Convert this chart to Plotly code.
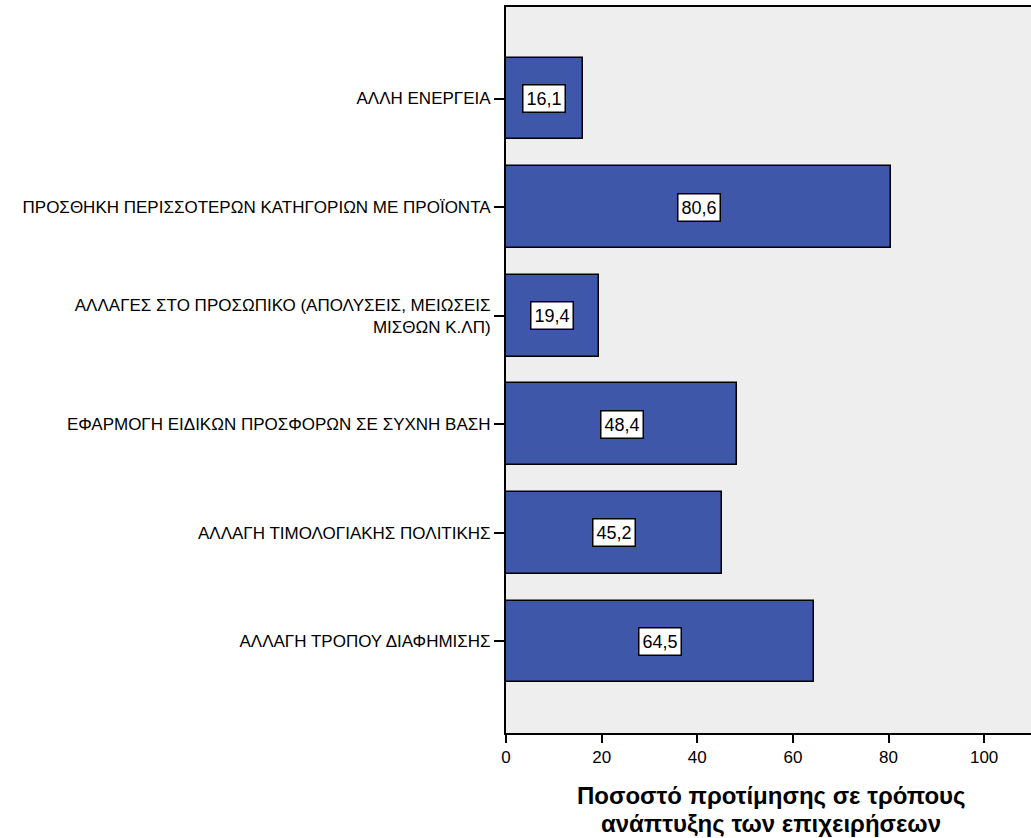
import plotly.graph_objects as go

# Categories listed bottom to top, with their preference percentages
categories = [
    "ΑΛΛΑΓΗ ΤΡΟΠΟΥ ΔΙΑΦΗΜΙΣΗΣ",
    "ΑΛΛΑΓΗ ΤΙΜΟΛΟΓΙΑΚΗΣ ΠΟΛΙΤΙΚΗΣ",
    "ΕΦΑΡΜΟΓΗ ΕΙΔΙΚΩΝ ΠΡΟΣΦΟΡΩΝ ΣΕ ΣΥΧΝΗ ΒΑΣΗ",
    "ΑΛΛΑΓΕΣ ΣΤΟ ΠΡΟΣΩΠΙΚΟ (ΑΠΟΛΥΣΕΙΣ, ΜΕΙΩΣΕΙΣ<br>ΜΙΣΘΩΝ Κ.ΛΠ)",
    "ΠΡΟΣΘΗΚΗ ΠΕΡΙΣΣΟΤΕΡΩΝ ΚΑΤΗΓΟΡΙΩΝ ΜΕ ΠΡΟΪΟΝΤΑ",
    "ΑΛΛΗ ΕΝΕΡΓΕΙΑ",
]
values = [64.5, 45.2, 48.4, 19.4, 80.6, 16.1]
x_ticks = [0, 20, 40, 60, 80, 100]
title_lines = ["Ποσοστό προτίμησης σε τρόπους", "ανάπτυξης των επιχειρήσεων"]

bar_color = "#3E57A9"
font_family = "Liberation Sans, Arial, sans-serif"

fig = go.Figure()
fig.add_trace(go.Bar(
    x=values,
    y=categories,
    orientation="h",
    width=0.752,
    marker=dict(color=bar_color, line=dict(color="#000000", width=1.5)),
    hoverinfo="x+y",
))

# Value boxes centred in each bar
for cat, v in zip(categories, values):
    fig.add_annotation(
        x=v / 2, y=cat, xref="x", yref="y",
        text=f"{v:.1f}".replace(".", ","),
        showarrow=False,
        font=dict(family=font_family, size=18, color="#000000"),
        bgcolor="#FFFFFF",
        bordercolor="#000000",
        borderwidth=1.5,
        borderpad=3,
    )

# Two-line bold axis title under the plot
for i, line in enumerate(title_lines):
    fig.add_annotation(
        x=0.505, y=0, xref="paper", yref="paper",
        text=f"<b>{line}</b>",
        showarrow=False,
        xanchor="center", yanchor="middle",
        yshift=-62 - 28 * i,
        font=dict(family=font_family, size=24, color="#000000"),
    )

fig.update_layout(
    width=1031,
    height=838,
    margin=dict(l=506, r=0, t=7, b=105),
    paper_bgcolor="#FFFFFF",
    plot_bgcolor="#EEEEEE",
    font=dict(family=font_family, color="#000000"),
    showlegend=False,
    bargap=0,
    xaxis=dict(
        range=[0, 109.8],
        tickvals=x_ticks,
        ticktext=[str(t) for t in x_ticks],
        ticks="outside",
        ticklen=8,
        tickwidth=2,
        tickcolor="#000000",
        tickfont=dict(size=17, family=font_family),
        showgrid=False,
        zeroline=False,
        showline=True,
        linecolor="#000000",
        linewidth=2,
        mirror=True,
    ),
    yaxis=dict(
        type="category",
        categoryorder="array",
        categoryarray=categories,
        range=[-0.843, 5.843],
        ticks="outside",
        ticklen=10,
        tickwidth=2,
        tickcolor="#000000",
        tickfont=dict(size=17, family=font_family),
        showgrid=False,
        zeroline=False,
        showline=True,
        linecolor="#000000",
        linewidth=2,
    ),
)

fig.write_html("out.html")
